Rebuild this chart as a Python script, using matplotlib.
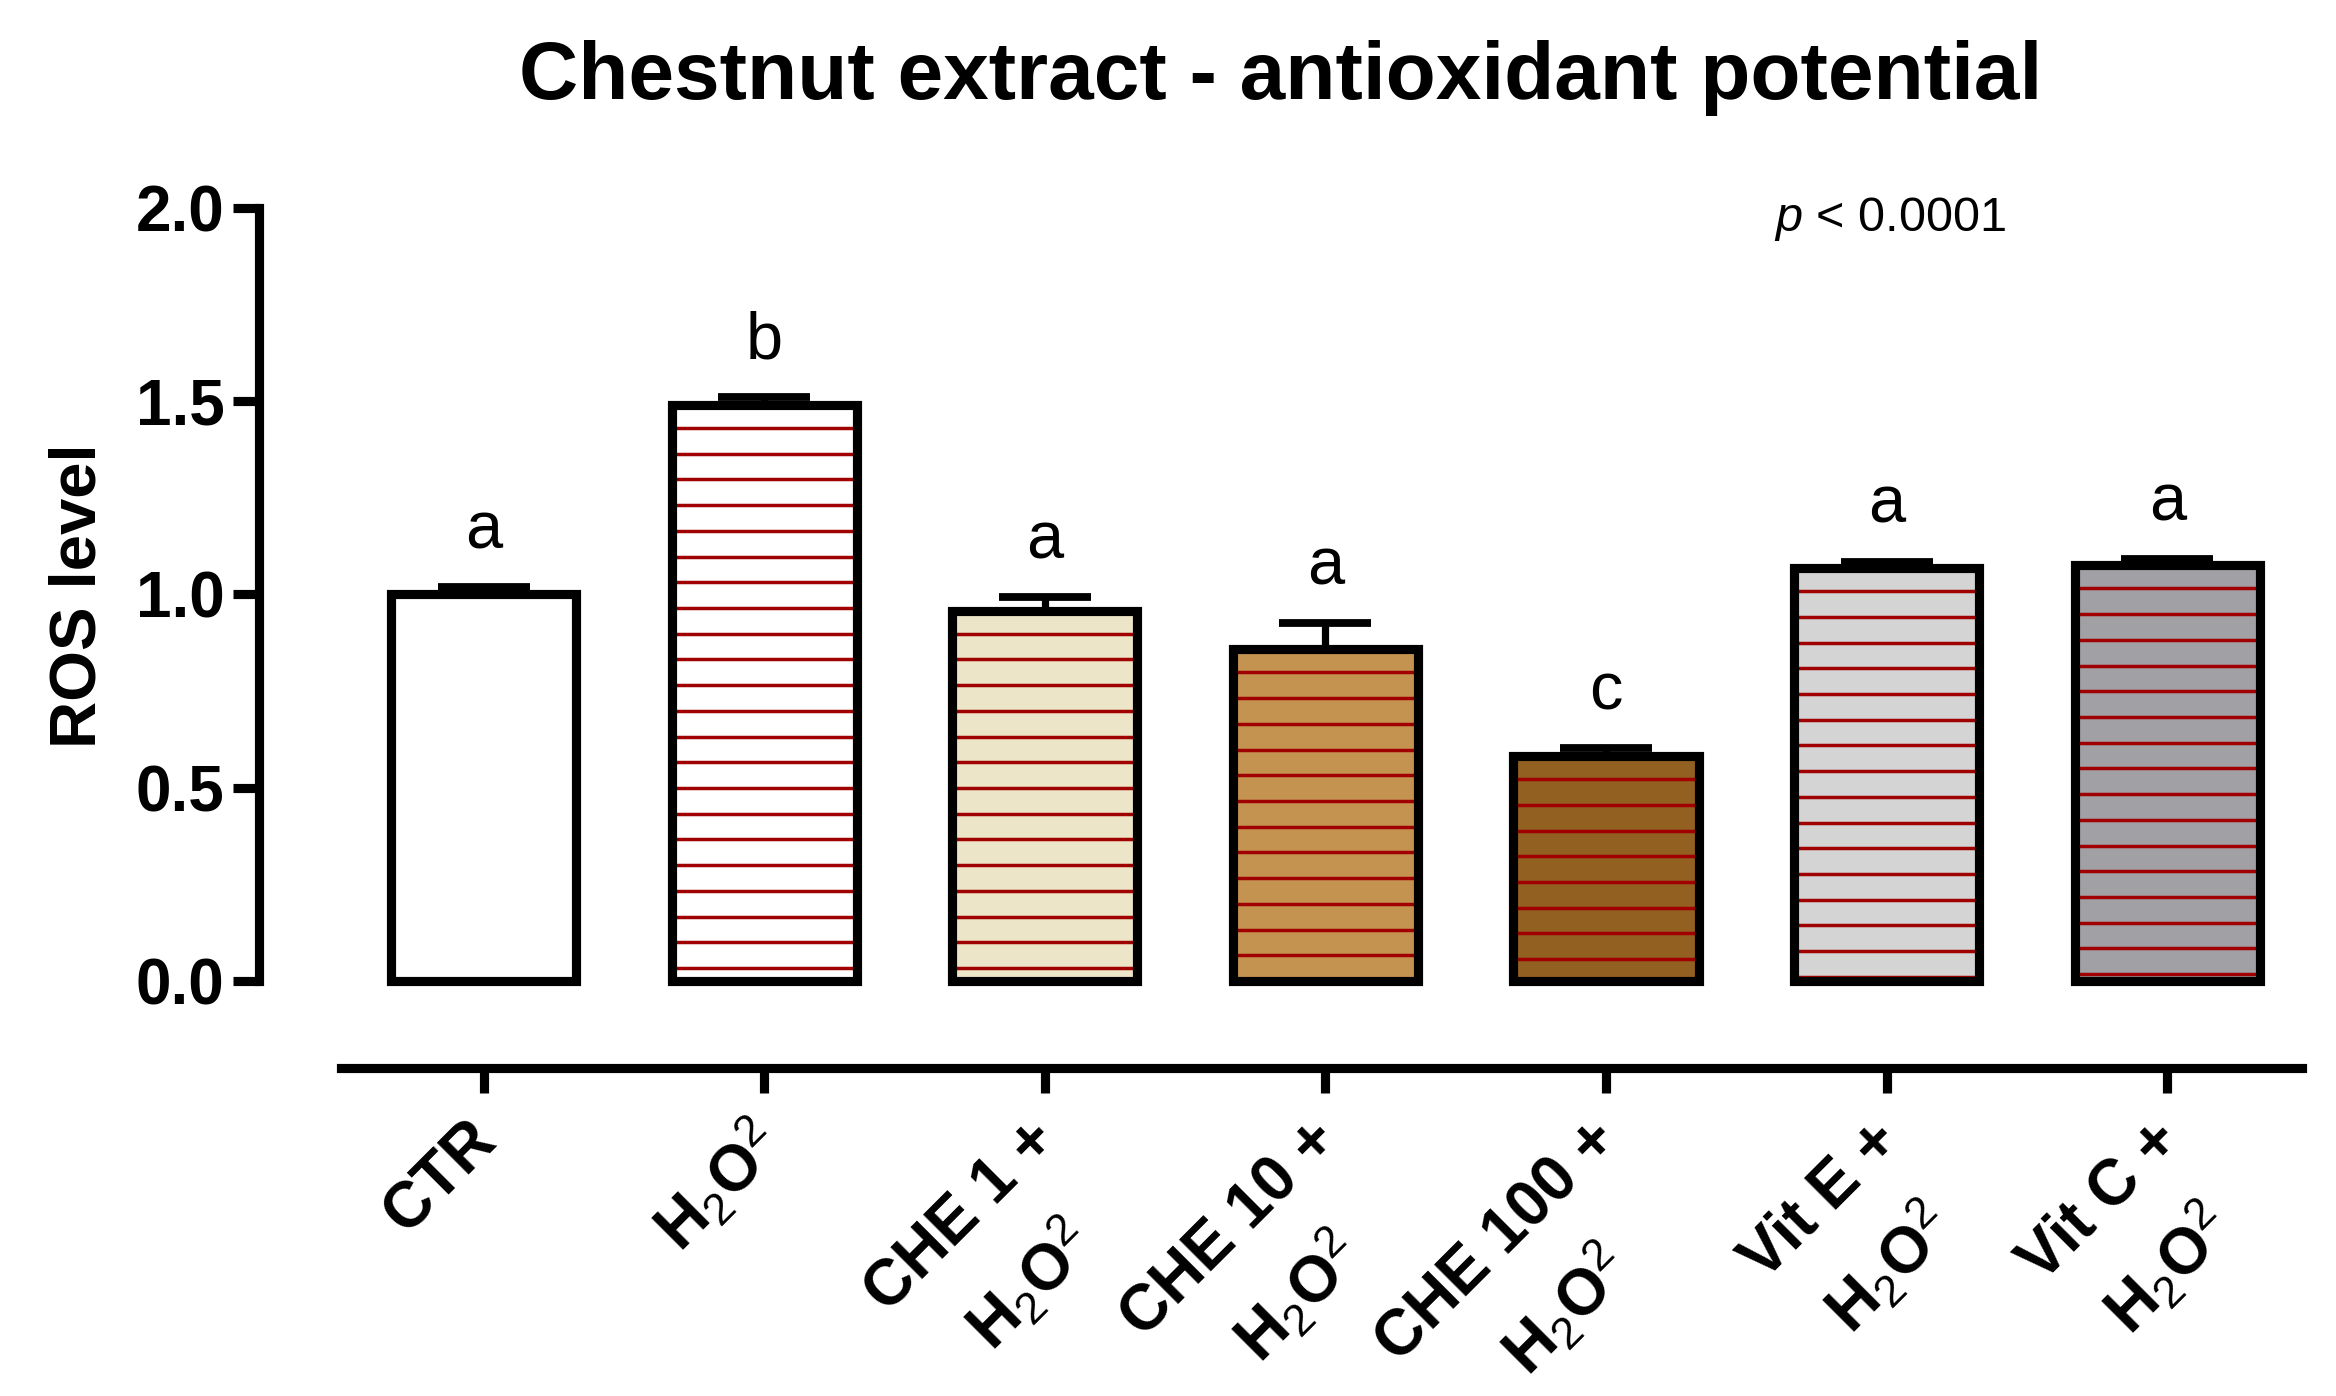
import matplotlib
matplotlib.use("Agg")
import matplotlib.pyplot as plt
import numpy as np

plt.rcParams['font.family'] = ['Liberation Sans', 'DejaVu Sans']
plt.rcParams['mathtext.fontset'] = 'custom'
plt.rcParams['mathtext.rm'] = 'Liberation Sans'
plt.rcParams['mathtext.it'] = 'Liberation Sans:italic'
plt.rcParams['mathtext.bf'] = 'Liberation Sans:bold'

# data
h2o2 = r'H$_{\mathrm{2}}$O$^{\mathrm{2}}$'
groups = ['CTR', h2o2, 'CHE 1 +\n' + h2o2, 'CHE 10 +\n' + h2o2,
          'CHE 100 +\n' + h2o2, 'Vit E +\n' + h2o2, 'Vit C +\n' + h2o2]
ros = [1.00, 1.49, 0.958, 0.858, 0.582, 1.068, 1.075]
sem = [0.018, 0.02, 0.035, 0.067, 0.02, 0.016, 0.016]
letters = ['a', 'b', 'a', 'a', 'c', 'a', 'a']
fills = ['#FFFFFF', '#FFFFFF', '#ECE5C8', '#C59350', '#926020', '#D4D4D4', '#A1A0A4']
striped = [False, True, True, True, True, True, True]

fig = plt.figure(figsize=(11.68, 6.98), dpi=200)
ax = fig.add_axes([0.1109, 0.2350, 0.8793, 0.6163])

x = np.arange(len(groups))
w = 0.66
lw = 3.3

ax.bar(x, ros, width=w, color=fills, edgecolor='none', zorder=1)

# red horizontal stripes, spaced from the top of each bar
step = 0.0665
for xi, v, s in zip(x, ros, striped):
    if not s:
        continue
    ys = np.arange(v - 0.06, 0.005, -step)
    ax.hlines(ys, xi - w / 2, xi + w / 2, colors='#A00000', linewidth=1.25, zorder=2)

ax.errorbar(x, ros, yerr=[np.zeros(len(ros)), sem], fmt='none', ecolor='black',
            elinewidth=2.6, capsize=16.5, capthick=2.8, zorder=3)
ax.bar(x, ros, width=w, color='none', edgecolor='black', linewidth=lw, zorder=4)

for xi, v, s, l in zip(x, ros, sem, letters):
    ax.annotate(l, (xi, v + s), xytext=(0, 14), textcoords='offset points',
                ha='center', va='baseline', fontsize=24)

ax.text(4.60, 1.97, r'$\mathit{p}$ < 0.0001', ha='left', va='center', fontsize=17.5)

ax.set_xlim(-0.80, 6.52)
ax.set_ylim(-0.225, 2.0)
ax.set_yticks([0, 0.5, 1.0, 1.5, 2.0])
ax.set_yticklabels(['0.0', '0.5', '1.0', '1.5', '2.0'], fontsize=23, fontweight='bold')
ax.set_xticks(x)
ax.set_xticklabels([])

# rotated group labels, hung just left of each tick
for xi, g in zip(x, groups):
    ax.annotate(g, (xi, 0), xycoords=('data', 'axes fraction'),
                xytext=(-6.5, -15), textcoords='offset points',
                fontsize=23, fontweight='bold', rotation=45, ha='right', va='top',
                rotation_mode='anchor', multialignment='center', linespacing=1.55,
                annotation_clip=False)

for sp in ['top', 'right']:
    ax.spines[sp].set_visible(False)
ax.spines['left'].set_linewidth(lw)
ax.spines['bottom'].set_linewidth(lw)
ax.spines['left'].set_bounds(0, 2.0)
ax.spines['bottom'].set_bounds(-0.507, 6.48)
ax.tick_params(axis='y', length=9.5, width=lw, pad=3)
ax.tick_params(axis='x', length=9, width=lw)
ax.patch.set_visible(False)

fig.text(0.0334, 0.573, 'ROS level', rotation=90, ha='center', va='center',
         fontsize=23.5, fontweight='bold')
fig.text(0.548, 0.944, 'Chestnut extract - antioxidant potential', ha='center',
         va='center', fontsize=29.5, fontweight='bold')

fig.savefig('out.png', dpi=200)
